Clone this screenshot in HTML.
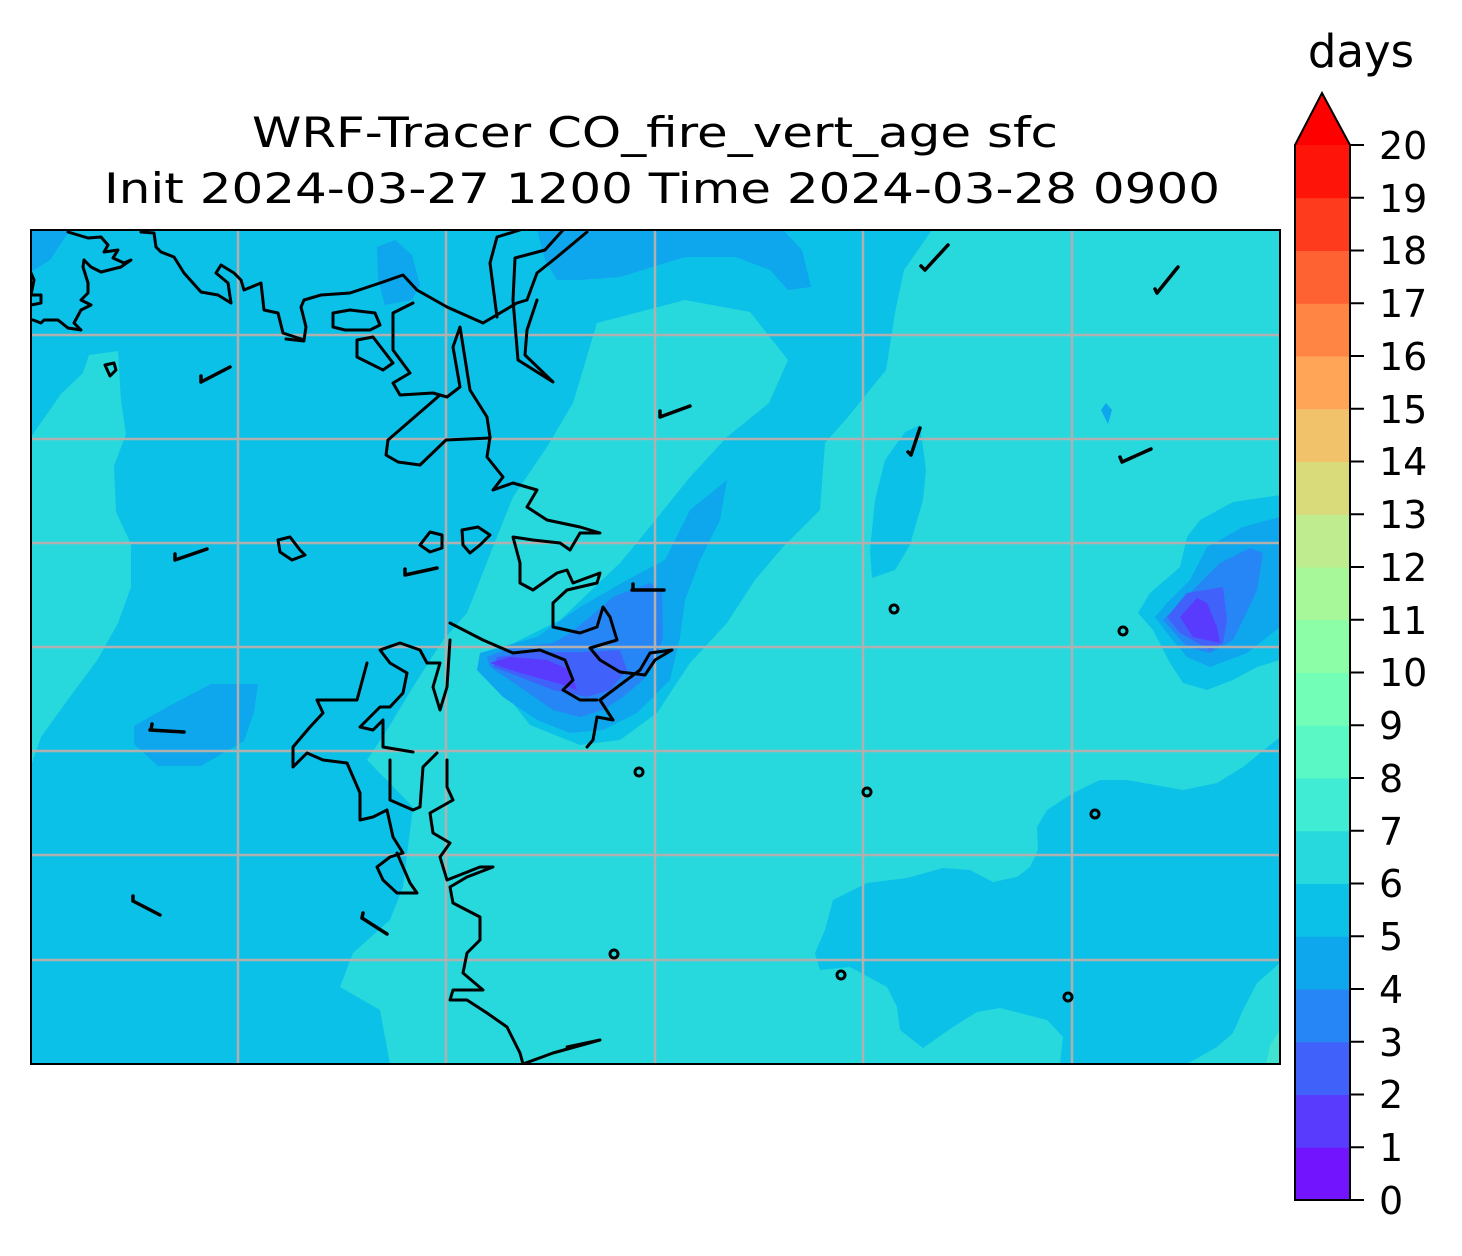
<!DOCTYPE html>
<html><head><meta charset="utf-8"><style>
html,body{margin:0;padding:0;background:#fff;}
svg{display:block;}
text{font-family:"DejaVu Sans","Liberation Sans",sans-serif;fill:#000;}
</style></head><body>
<svg width="1462" height="1256" viewBox="0 0 1462 1256" xmlns="http://www.w3.org/2000/svg">
<defs><clipPath id="m"><rect x="31" y="230" width="1249" height="834"/></clipPath></defs>
<text x="655" y="147" font-size="42" text-anchor="middle" textLength="806" lengthAdjust="spacingAndGlyphs">WRF-Tracer CO_fire_vert_age sfc</text>
<text x="662" y="203" font-size="42" text-anchor="middle" textLength="1116" lengthAdjust="spacingAndGlyphs">Init 2024-03-27 1200 Time 2024-03-28 0900</text>
<g clip-path="url(#m)">
<rect x="31" y="230" width="1249" height="834" fill="#27d9dc"/>
<polygon fill="#0cc1e7" points="31,230 932,230 904,270 895,313 886,370 848,417 825,443 820,510 783,547 755,580 727,623 690,663 657,713 620,740 580,745 530,725 485,668 500,650 560,620 620,563 653,523 690,477 727,437 769,403 788,360 750,312 685,300 597,323 573,403 547,447 513,497 493,547 467,613 443,640 413,687 387,730 367,760 413,807 403,887 390,920 353,953 340,987 380,1010 390,1064 31,1064"/>
<polygon fill="#27d9dc" points="31,437 61,394 83,373 89,355 118,351 121,401 126,434 114,466 116,512 131,544 131,587 118,623 98,659 64,705 41,737 31,766"/>
<polygon fill="#0cc1e7" points="1280,737 1243,767 1217,783 1183,790 1127,780 1100,780 1073,793 1047,810 1037,827 1038,850 1030,867 1017,877 993,882 970,870 943,868 907,878 867,883 833,900 825,930 815,953 820,970 850,967 887,987 897,1007 900,1030 923,1048 953,1027 977,1012 1000,1008 1047,1020 1063,1037 1060,1064 1187,1064 1217,1047 1233,1033 1243,1010 1257,983 1280,963"/>
<polygon fill="#3fe3cf" points="1280,1030 1270,1045 1266,1064 1280,1064"/>
<polygon fill="#0cc1e7" points="920,425 926,470 923,500 910,545 895,570 872,578 870,550 875,500 885,460 905,432"/>
<polygon fill="#0ea6ec" points="31,230 70,230 50,260 31,272"/>
<polygon fill="#0ea6ec" points="377,247 395,240 412,255 420,285 412,300 385,305 378,280"/>
<polygon fill="#0ea6ec" points="537,230 783,230 802,250 811,287 788,290 770,270 736,257 685,257 620,277 580,280 557,280 545,260"/>
<polygon fill="#0ea6ec" points="134,726 171,705 211,684 258,684 254,712 244,741 201,766 158,766 134,744"/>
<polygon fill="#0ea6ec" points="1101,410 1106,403 1112,410 1108,424"/>
<polygon fill="#0cc1e7" points="1280,495 1233,502 1200,520 1187,537 1180,567 1150,593 1138,613 1153,630 1170,663 1183,683 1207,690 1233,680 1257,667 1280,660"/>
<polygon fill="#0ea6ec" points="1280,517 1243,527 1207,547 1190,580 1167,603 1155,617 1170,637 1187,657 1210,667 1247,653 1280,627"/>
<polygon fill="#2686f5" points="1250,548 1263,553 1257,590 1243,620 1233,640 1210,653 1187,647 1163,620 1193,590 1220,563"/>
<polygon fill="#4062fa" points="1223,587 1227,620 1223,643 1210,650 1180,633 1167,617 1187,593"/>
<polygon fill="#593bfd" points="1197,598 1207,603 1217,627 1220,643 1193,637 1180,617"/>
<polygon fill="#0ea6ec" points="727,480 720,520 700,560 685,600 680,637 670,680 637,713 603,730 570,733 537,720 503,697 477,670 480,653 537,637 580,607 627,580 665,560 690,510"/>
<polygon fill="#2686f5" points="613,597 650,583 662,590 663,637 657,657 643,680 623,697 603,710 580,717 553,710 520,687 490,667 487,657 513,647 553,643 570,633 590,617"/>
<polygon fill="#4062fa" points="497,657 537,652 580,652 620,650 627,670 610,690 587,697 553,690 520,677 493,667"/>
<polygon fill="#593bfd" points="490,663 510,657 547,660 570,670 577,690 557,683 520,673"/>
<g stroke="#b0b0b0" stroke-width="2.5">
<line x1="238" y1="230" x2="238" y2="1064"/><line x1="446" y1="230" x2="446" y2="1064"/>
<line x1="655" y1="230" x2="655" y2="1064"/><line x1="863" y1="230" x2="863" y2="1064"/>
<line x1="1072" y1="230" x2="1072" y2="1064"/>
<line x1="31" y1="335" x2="1280" y2="335"/><line x1="31" y1="439" x2="1280" y2="439"/>
<line x1="31" y1="543" x2="1280" y2="543"/><line x1="31" y1="647" x2="1280" y2="647"/>
<line x1="31" y1="751" x2="1280" y2="751"/><line x1="31" y1="855" x2="1280" y2="855"/>
<line x1="31" y1="960" x2="1280" y2="960"/>
</g>
<g fill="none" stroke="#000" stroke-width="3" stroke-linejoin="round" stroke-linecap="round">
<polyline points="68,232 88,238 101,237 108,245 104,252 118,250 113,258 124,263 131,260 121,267 101,272 91,267 84,260 83,267 88,283 88,293 81,300 91,305 81,310 74,323 81,330 68,328 58,320 44,320 41,323 33,320"/>
<polyline points="31,273 34,280 31,295 41,295 41,303 31,305"/>
<polyline points="141,232 154,233 156,247 161,252 174,257 184,273 201,292 218,295 231,303 228,283 216,273 221,265 234,273 241,280 244,290 261,283 264,310 278,313 283,333 304,340 306,327 301,307 304,300 321,295 350,293 380,283 403,275 417,290 447,307 483,323 517,303 527,300 537,273 557,257 587,232"/>
<polyline points="286,339 304,341"/>
<polyline points="520,230 497,237 490,263 497,317"/>
<polyline points="563,230 545,250 515,258 513,300 518,360 553,382 525,355 527,330 537,300"/>
<polygon points="333,313 350,310 375,313 380,325 370,330 345,330 333,327"/>
<polygon points="357,340 373,337 393,363 383,370 357,357"/>
<polyline points="413,303 393,313 393,350 410,373 393,383 400,395 433,393 447,397 460,387 453,347 460,327 470,390 487,417 490,437 487,457 503,477 493,490 513,483 537,490 527,507 547,520 580,527 600,533 580,533 570,550 560,543 533,540 513,537 520,563 520,583 533,590 557,573 567,570 573,583 600,573 597,583 567,590 553,603 553,627 580,633 597,627 603,607 610,617 617,640 590,648 600,660 620,672 645,675 655,660 672,650 650,653 640,670 600,700 613,720 597,717 593,740 587,747"/>
<polyline points="440,395 388,440 386,455 398,462 420,465 446,440 490,438"/>
<polyline points="450,623 483,640 513,653 540,650 565,660 573,680 563,690 580,700 597,700"/>
<polyline points="450,640 447,687 440,710 433,687 440,663 427,663 420,650 400,643 380,650 390,663 407,673 403,693 390,707 380,707 360,727 373,730 383,720 383,747 413,752"/>
<polyline points="367,663 357,700 337,700 317,700 323,713 310,727 293,747 293,767 307,753 323,760 347,763 360,793 360,820 373,817 387,810 393,837 403,853 390,857 377,867 383,880 397,893 417,893 410,883 397,853"/>
<polyline points="437,753 423,767 420,807 413,810 390,800 390,773 390,760"/>
<polyline points="447,760 447,787 453,800 430,813 433,833 450,843 440,857 447,880 480,867 493,867 467,877 450,887 453,903 480,917 480,940 467,953 463,973 483,990 453,990 450,1000 467,1000 487,1013 507,1027 520,1053 523,1064 553,1053 600,1040 567,1047"/>
<polygon points="420,545 430,532 442,535 442,548 430,552"/>
<polygon points="278,540 290,537 300,550 305,555 292,560 280,552"/>
<polygon points="105,365 114,363 116,370 110,376"/>
<polygon points="462,530 478,527 490,535 480,545 470,553 463,545"/>
</g>
<g stroke="#000" stroke-width="3.5" stroke-linecap="round" fill="none">
<path d="M201,382 L230,367 M201,382 L201,376"/>
<path d="M660,417 L690,406 M660,417 L660,411"/>
<path d="M175,560 L207,549 M175,560 L175,554"/>
<path d="M405,575 L437,568 M405,575 L405,569"/>
<path d="M150,730 L184,732 M151,730 L152,724"/>
<path d="M133,901 L160,915 M133,901 L133,896"/>
<path d="M362,918 L387,934 M362,918 L363,913"/>
<path d="M925,270 L948,245 M925,270 L921,266"/>
<path d="M1157,293 L1178,267 M1157,293 L1155,289"/>
<path d="M911,455 L920,428 M911,455 L908,452"/>
<path d="M1122,462 L1151,449 M1122,462 L1120,457"/>
<path d="M632,590 L664,590 M633,590 L633,584"/>
<g stroke-width="3">
<circle cx="894" cy="609" r="4"/><circle cx="1123" cy="631" r="4"/><circle cx="639" cy="772" r="4"/>
<circle cx="867" cy="792" r="4"/><circle cx="1095" cy="814" r="4"/><circle cx="614" cy="954" r="4"/>
<circle cx="841" cy="975" r="4"/><circle cx="1068" cy="997" r="4"/>
</g>
</g>
</g>
<rect x="31" y="230" width="1249" height="834" fill="none" stroke="#000" stroke-width="2"/>
<g>
<rect x="1295" y="1147.25" width="55" height="53.25" fill="#7314ff"/>
<rect x="1295" y="1094.5" width="55" height="53.25" fill="#593bfd"/>
<rect x="1295" y="1041.75" width="55" height="53.25" fill="#4062fa"/>
<rect x="1295" y="989" width="55" height="53.25" fill="#2686f5"/>
<rect x="1295" y="936.25" width="55" height="53.25" fill="#0ea6ec"/>
<rect x="1295" y="883.5" width="55" height="53.25" fill="#0cc1e7"/>
<rect x="1295" y="830.75" width="55" height="53.25" fill="#27d9dc"/>
<rect x="1295" y="778" width="55" height="53.25" fill="#40ecd4"/>
<rect x="1295" y="725.25" width="55" height="53.25" fill="#59f8c5"/>
<rect x="1295" y="672.5" width="55" height="53.25" fill="#73feb7"/>
<rect x="1295" y="619.75" width="55" height="53.25" fill="#8cfea8"/>
<rect x="1295" y="567" width="55" height="53.25" fill="#a6f898"/>
<rect x="1295" y="514.25" width="55" height="53.25" fill="#bfec8e"/>
<rect x="1295" y="461.5" width="55" height="53.25" fill="#d9da7a"/>
<rect x="1295" y="408.75" width="55" height="53.25" fill="#f2c26a"/>
<rect x="1295" y="356" width="55" height="53.25" fill="#ffa558"/>
<rect x="1295" y="303.25" width="55" height="53.25" fill="#ff8545"/>
<rect x="1295" y="250.5" width="55" height="53.25" fill="#ff6232"/>
<rect x="1295" y="197.75" width="55" height="53.25" fill="#ff3b1e"/>
<rect x="1295" y="145" width="55" height="53.25" fill="#ff140a"/>
<polygon points="1295,145 1322,93 1350,145" fill="#ff0000"/>
<polygon points="1295,145 1322,93 1350,145 1350,1200 1295,1200" fill="none" stroke="#000" stroke-width="2"/>
</g>
<g stroke="#000" stroke-width="2">
<line x1="1350" x2="1364" y1="1200" y2="1200"/><line x1="1350" x2="1364" y1="1147.25" y2="1147.25"/>
<line x1="1350" x2="1364" y1="1094.5" y2="1094.5"/><line x1="1350" x2="1364" y1="1041.75" y2="1041.75"/>
<line x1="1350" x2="1364" y1="989" y2="989"/><line x1="1350" x2="1364" y1="936.25" y2="936.25"/>
<line x1="1350" x2="1364" y1="883.5" y2="883.5"/><line x1="1350" x2="1364" y1="830.75" y2="830.75"/>
<line x1="1350" x2="1364" y1="778" y2="778"/><line x1="1350" x2="1364" y1="725.25" y2="725.25"/>
<line x1="1350" x2="1364" y1="672.5" y2="672.5"/><line x1="1350" x2="1364" y1="619.75" y2="619.75"/>
<line x1="1350" x2="1364" y1="567" y2="567"/><line x1="1350" x2="1364" y1="514.25" y2="514.25"/>
<line x1="1350" x2="1364" y1="461.5" y2="461.5"/><line x1="1350" x2="1364" y1="408.75" y2="408.75"/>
<line x1="1350" x2="1364" y1="356" y2="356"/><line x1="1350" x2="1364" y1="303.25" y2="303.25"/>
<line x1="1350" x2="1364" y1="250.5" y2="250.5"/><line x1="1350" x2="1364" y1="197.75" y2="197.75"/>
<line x1="1350" x2="1364" y1="145" y2="145"/>
</g>
<g font-size="38">
<text x="1379" y="1214">0</text><text x="1379" y="1161">1</text><text x="1379" y="1108">2</text>
<text x="1379" y="1056">3</text><text x="1379" y="1003">4</text><text x="1379" y="950">5</text>
<text x="1379" y="897">6</text><text x="1379" y="845">7</text><text x="1379" y="792">8</text>
<text x="1379" y="739">9</text><text x="1379" y="686">10</text><text x="1379" y="634">11</text>
<text x="1379" y="581">12</text><text x="1379" y="528">13</text><text x="1379" y="475">14</text>
<text x="1379" y="423">15</text><text x="1379" y="370">16</text><text x="1379" y="317">17</text>
<text x="1379" y="264">18</text><text x="1379" y="212">19</text><text x="1379" y="159">20</text>
</g>
<text x="1361" y="67" font-size="45" text-anchor="middle">days</text>
</svg>
</body></html>
